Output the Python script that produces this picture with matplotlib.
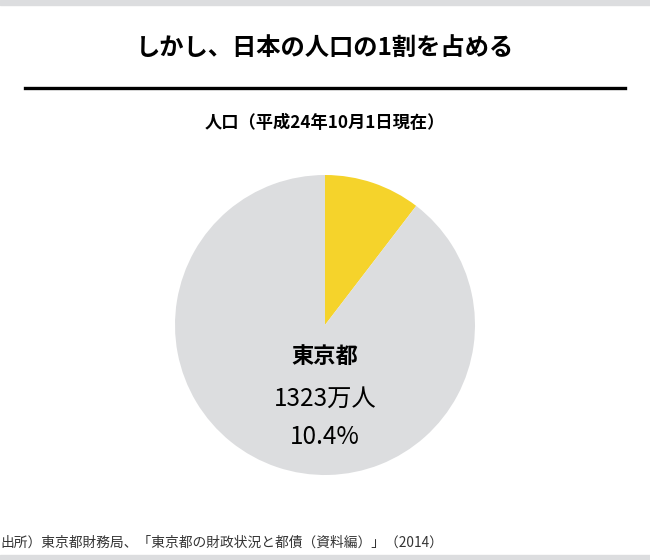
import matplotlib.pyplot as plt
from matplotlib.patches import Rectangle
from matplotlib.lines import Line2D

plt.rcParams['font.family'] = ['Noto Sans CJK JP', 'DejaVu Sans']

# Data
labels = ['東京都', 'その他']
shares = [10.4, 89.6]
colors = ['#F5D32B', '#DCDDDF']
tokyo_name = '東京都'
tokyo_pop = '1323万人'

title = 'しかし、日本の人口の1割を占める'
subtitle = '人口（平成24年10月1日現在）'
source = '出所）東京都財務局、「東京都の財政状況と都債（資料編）」（2014）'

fig = plt.figure(figsize=(6.5, 5.6), dpi=100)

# gray bands at top and bottom
fig.patches.append(Rectangle((0, 1 - 5 / 560), 1, 5 / 560, transform=fig.transFigure,
                             color='#DCDDDF', zorder=0))
fig.patches.append(Rectangle((0, 0), 1, 5 / 560, transform=fig.transFigure,
                             color='#DCDDDF', zorder=0))

# title and rule
fig.text(0.5, 1 - 48 / 560, title, ha='center', va='center', fontsize=17.5, fontweight='bold')
fig.lines.append(Line2D([25 / 650, 625 / 650], [1 - 88 / 560, 1 - 88 / 560],
                        transform=fig.transFigure, color='black', linewidth=2.4))
fig.text(0.5, 1 - 123 / 560, subtitle, ha='center', va='center', fontsize=12.4, fontweight='bold')

# pie
ax = fig.add_axes([175 / 650, 85 / 560, 300 / 650, 300 / 560])
ax.pie(shares, colors=colors, startangle=90, counterclock=False, radius=1,
       wedgeprops={'linewidth': 0})
ax.set_xlim(-1, 1)
ax.set_ylim(-1, 1)
ax.set_aspect('equal')
ax.axis('off')

ax.text(0, -0.21, tokyo_name, ha='center', va='center', fontsize=16, fontweight='bold')
ax.text(0, -0.49, tokyo_pop, ha='center', va='center', fontsize=17.5)
ax.text(0, -0.75, f'{shares[0]}%', ha='center', va='center', fontsize=17.5)

fig.text(0, 1 - 543 / 560, source, ha='left', va='center', fontsize=9.9, color='#333333')

plt.savefig('out.png', dpi=100)
